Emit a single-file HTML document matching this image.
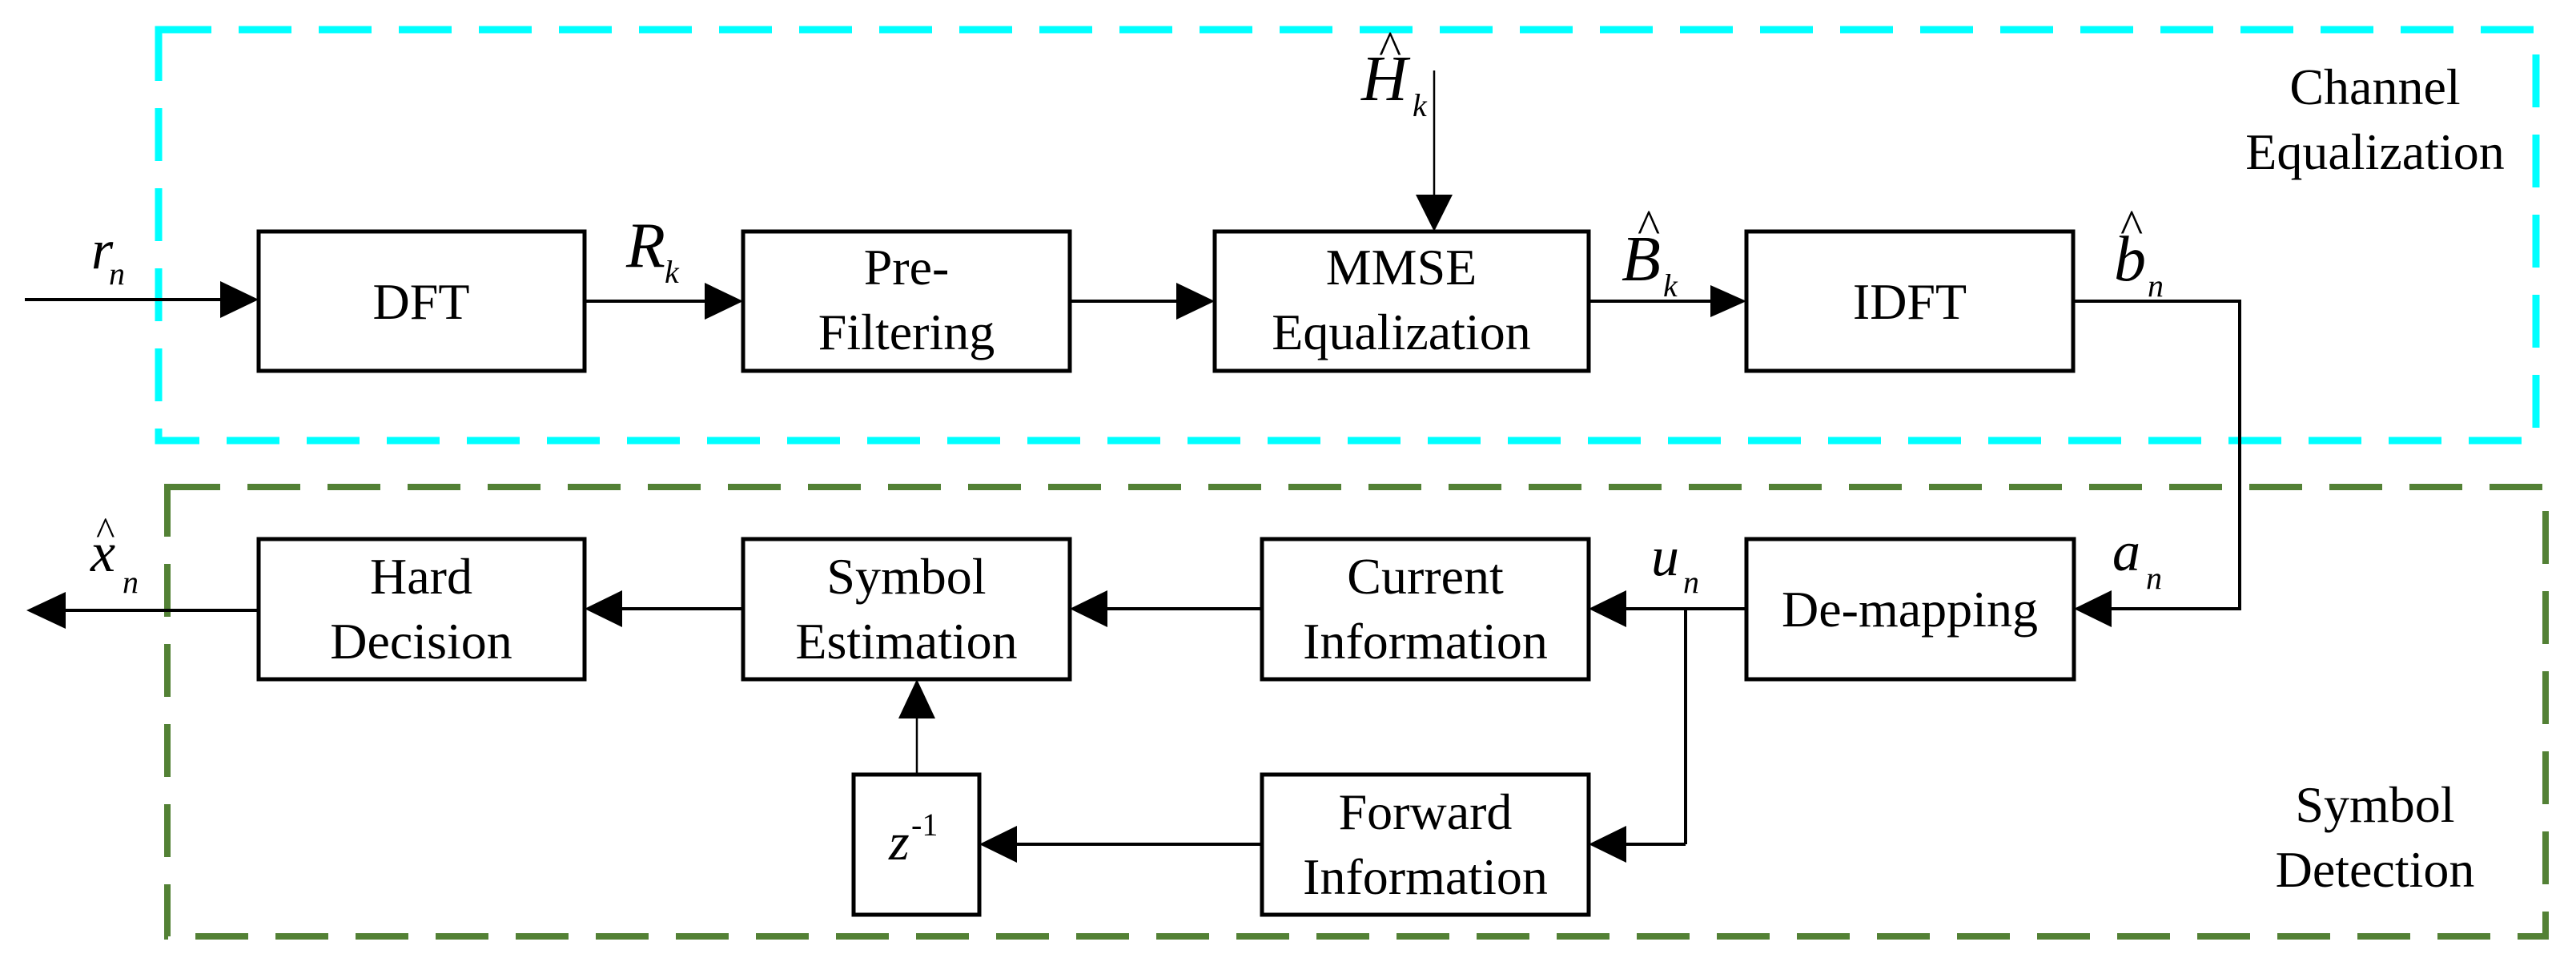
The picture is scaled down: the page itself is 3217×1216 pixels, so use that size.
<!DOCTYPE html>
<html><head><meta charset="utf-8"><style>
html,body{margin:0;padding:0;background:#fff;}
svg{display:block;}
text{font-family:"Liberation Serif",serif;fill:#000;}
.b{font-size:64px;text-anchor:middle;}
</style></head><body>
<svg width="3217" height="1216" viewBox="0 0 3217 1216" xmlns="http://www.w3.org/2000/svg">
<rect x="198" y="37" width="2969" height="513" fill="none" stroke="#00FFFF" stroke-width="9" stroke-dasharray="66 34"/>
<rect x="209" y="608" width="2970" height="561" fill="none" stroke="#538135" stroke-width="8" stroke-dasharray="66 34"/>

<g fill="none" stroke="#000" stroke-width="5">
<rect x="323" y="289" width="407" height="174"/>
<rect x="928" y="289" width="408" height="174"/>
<rect x="1517" y="289" width="467" height="174"/>
<rect x="2181" y="289" width="408" height="174"/>
<rect x="323" y="673" width="407" height="175"/>
<rect x="928" y="673" width="408" height="175"/>
<rect x="1576" y="673" width="408" height="175"/>
<rect x="2181" y="673" width="409" height="175"/>
<rect x="1576" y="967" width="408" height="175"/>
<rect x="1066" y="967" width="157" height="175"/>
</g>

<g stroke="#000" stroke-width="4" fill="none">
<line x1="31" y1="374" x2="280" y2="374"/>
<line x1="730" y1="376" x2="885" y2="376"/>
<line x1="1336" y1="376" x2="1475" y2="376"/>
<line x1="1984" y1="376" x2="2140" y2="376"/>
<polyline points="2589,376 2797,376 2797,760 2630,760"/>
<line x1="2181" y1="760" x2="2030" y2="760"/>
<line x1="2105" y1="760" x2="2105" y2="1054" />
<line x1="2105" y1="1054" x2="2030" y2="1054"/>
<line x1="1576" y1="1054" x2="1265" y2="1054"/>
<line x1="1576" y1="760" x2="1380" y2="760"/>
<line x1="928" y1="760" x2="775" y2="760"/>
<line x1="323" y1="762" x2="75" y2="762"/>
</g>
<g stroke="#000" stroke-width="2.5">
<line x1="1791" y1="88" x2="1791" y2="250"/>
<line x1="1145" y1="967" x2="1145" y2="880"/>
</g>
<g fill="#000">
<polygon points="323,374 275,351 275,397"/>
<polygon points="928,376 880,353 880,399"/>
<polygon points="1517,376 1469,353 1469,399"/>
<polygon points="2181,376 2136,356 2136,396"/>
<polygon points="1791,289 1768,243 1814,243"/>
<polygon points="2590,760 2637,737 2637,783"/>
<polygon points="1984,760 2031,737 2031,783"/>
<polygon points="1984,1054 2031,1031 2031,1077"/>
<polygon points="1223,1054 1270,1031 1270,1077"/>
<polygon points="1336,760 1383,737 1383,783"/>
<polygon points="730,760 777,737 777,783"/>
<polygon points="33,762 82,739 82,785"/>
<polygon points="1145,848 1122,897 1168,897"/>
</g>

<text class="b" x="526" y="398">DFT</text>
<text class="b" x="1132" y="355">Pre-</text>
<text class="b" x="1132" y="436">Filtering</text>
<text class="b" x="1750" y="355">MMSE</text>
<text class="b" x="1750" y="436">Equalization</text>
<text class="b" x="2385" y="398">IDFT</text>
<text class="b" x="526" y="741">Hard</text>
<text class="b" x="526" y="822">Decision</text>
<text class="b" x="1132" y="741">Symbol</text>
<text class="b" x="1132" y="822">Estimation</text>
<text class="b" x="1780" y="741">Current</text>
<text class="b" x="1780" y="822">Information</text>
<text class="b" x="2385" y="782">De-mapping</text>
<text class="b" x="1780" y="1035">Forward</text>
<text class="b" x="1780" y="1116">Information</text>
<text class="b" x="2966" y="130">Channel</text>
<text class="b" x="2966" y="211">Equalization</text>
<text class="b" x="2966" y="1026">Symbol</text>
<text class="b" x="2966" y="1107">Detection</text>

<text x="114" y="335" font-size="70" font-style="italic">r</text>
<text x="136" y="355" font-size="40" font-style="italic">n</text>
<text x="782" y="333" font-size="80" font-style="italic">R</text>
<text x="830" y="353" font-size="40" font-style="italic">k</text>
<text x="1700" y="125" font-size="80" font-style="italic">H</text>
<text x="1722" y="80" font-size="60">^</text>
<text x="1764" y="145" font-size="40" font-style="italic">k</text>
<text x="2025" y="350" font-size="80" font-style="italic">B</text>
<text x="2045" y="303" font-size="60">^</text>
<text x="2077" y="370" font-size="40" font-style="italic">k</text>
<text x="2640" y="350" font-size="80" font-style="italic">b</text>
<text x="2648" y="303" font-size="60">^</text>
<text x="2682" y="370" font-size="40" font-style="italic">n</text>
<text x="2638" y="712" font-size="70" font-style="italic">a</text>
<text x="2680" y="735" font-size="40" font-style="italic">n</text>
<text x="2062" y="718" font-size="70" font-style="italic">u</text>
<text x="2102" y="740" font-size="40" font-style="italic">n</text>
<text x="113" y="713" font-size="70" font-style="italic">x</text>
<text x="120" y="680" font-size="50">^</text>
<text x="153" y="740" font-size="40" font-style="italic">n</text>
<text x="1110" y="1073" font-size="66" font-style="italic">z</text>
<text x="1138" y="1043" font-size="40">-1</text>
</svg>
</body></html>
